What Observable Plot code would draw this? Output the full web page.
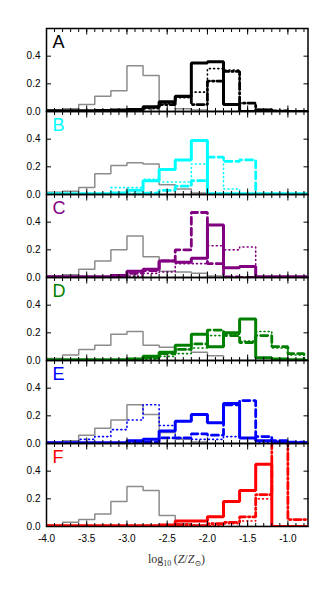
<!DOCTYPE html>
<html><head><meta charset="utf-8">
<script src="https://cdn.jsdelivr.net/npm/d3@7"></script>
<script src="https://cdn.jsdelivr.net/npm/@observablehq/plot@0.6"></script>
<style>body{margin:0;background:#fff;} #chart svg{display:block;}</style>
</head><body><div id="chart"></div>
<script>
// bin left edges (log10 Z/Zsun), width 0.2
const binStarts = [-4.0,-3.8,-3.6,-3.4,-3.2,-3.0,-2.8,-2.6,-2.4,-2.2,-2.0,-1.8,-1.6,-1.4,-1.2,-1.0,-0.8];
const binWidth = 0.2;
const panels = ["A","B","C","D","E","F"];
const panelColors = ["#000000","#00ffff","#800080","#008000","#0000ff","#ff0000"];
const xMajorTicks = [-4.0,-3.5,-3.0,-2.5,-2.0,-1.5,-1.0];
const xMinorTicks = d3.range(-40, -7).map(v => v / 10);
const yTicks = [0.0, 0.2, 0.4];

const grayA   = [0.01,0.02,0.05,0.11,0.15,0.33,0.26,0.07,0.02,0.01,0,0,0,0,0,0,0];
const solidA  = [0.005,0.005,0.005,0.008,0.01,0.015,0.035,0.07,0.11,0.35,0.36,0.05,0.0,0.01,0.0,0,0];
const dashedA = [0,0,0,0,0,0.005,0.03,0.05,0.11,0.05,0.22,0.29,0.06,0.01,0.005,0,0];
const dottedA = [0,0,0,0,0,0.005,0.02,0.06,0.10,0.14,0.31,0.30,0.0,0,0,0,0];

const grayB   = [0.017,0.024,0.05,0.15,0.21,0.23,0.22,0.07,0.04,0.01,0,0,0,0,0,0,0];
const solidB  = [0.005,0.005,0.005,0.005,0.01,0.03,0.10,0.18,0.25,0.39,0.005,0.005,0.005,0.005,0.005,0.005,0.005];
const dashedB = [0,0,0,0,0,0.005,0.01,0.03,0.06,0.10,0.27,0.24,0.25,0,0,0,0];
const dottedB = [0,0,0,0,0.05,0.05,0.11,0.09,0.09,0.22,0.27,0.04,0,0,0,0,0];

const grayC   = [0.01,0.02,0.06,0.12,0.20,0.30,0.15,0.045,0.04,0.03,0.01,0,0,0,0,0,0];
const solidC  = [0.005,0.005,0.005,0.005,0.015,0.045,0.06,0.12,0.11,0.14,0.38,0.07,0.08,0.005,0.005,0.005,0.005];
const dashedC = [0,0,0,0,0,0.03,0.05,0.12,0.20,0.47,0.10,0.005,0,0,0,0,0];
const dottedC = [0,0,0,0,0,0.01,0.03,0.04,0.10,0.10,0.23,0.20,0.22,0,0,0,0];

const grayD   = [0.015,0.04,0.08,0.11,0.19,0.21,0.11,0.095,0.08,0.06,0.035,0,0,0,0,0,0];
const solidD  = [0.005,0.005,0.005,0.005,0.005,0.01,0.03,0.06,0.11,0.19,0.10,0.20,0.30,0.02,0.01,0.005,0];
const dashedD = [0,0,0,0,0,0.005,0.02,0.05,0.08,0.12,0.22,0.18,0.13,0.18,0.10,0.05,0];
const dottedD = [0,0,0,0,0,0,0.01,0.03,0.05,0.09,0.18,0.19,0.14,0.21,0.09,0.04,0];

const grayE   = [0.01,0.02,0.06,0.11,0.17,0.28,0.21,0.08,0.03,0.01,0,0,0,0,0,0,0];
const solidE  = [0.005,0.005,0.005,0.005,0.005,0.02,0.03,0.09,0.16,0.21,0.15,0.29,0.04,0.02,0.01,0.005,0.005];
const dashedE = [0,0,0,0,0,0.005,0.01,0.04,0.04,0.07,0.06,0.28,0.31,0.05,0.02,0.01,0.005];
const dottedE = [0,0.01,0.03,0.05,0.10,0.17,0.28,0.13,0.04,0.03,0.03,0.05,0.04,0.01,0,0,0];

const grayF    = [0.01,0.03,0.05,0.09,0.18,0.29,0.26,0.08,0.02,0.01,0,0,0,0,0,0,0];
const solidF   = [0.005,0.005,0.005,0.005,0.005,0.005,0.005,0.01,0.04,0.04,0.07,0.18,0.26,0.45,0,0,0];
const dashdotF = [0,0,0,0,0,0,0,0.005,0.01,0.005,0.02,0.03,0.07,0.23,0.75,0.05,0.05];
const dottedF  = [0,0,0,0,0,0,0,0.01,0.02,0.01,0.005,0.02,0.04,0.20,0.0,0.0,0.0];

const series = [
  ["A","gray",grayA],["A","dotted",dottedA],["A","dashdot",dashedA],["A","solid",solidA],
  ["B","gray",grayB],["B","dotted",dottedB],["B","dashed",dashedB],["B","solid",solidB],
  ["C","gray",grayC],["C","dotted",dottedC],["C","dashed",dashedC],["C","solid",solidC],
  ["D","gray",grayD],["D","dotted",dottedD],["D","dashed",dashedD],["D","solid",solidD],
  ["E","gray",grayE],["E","dotted",dottedE],["E","dashed",dashedE],["E","solid",solidE],
  ["F","gray",grayF],["F","dotted",dottedF],["F","dashdot",dashdotF],["F","solid",solidF]
];

const styles = {
  gray:    {strokeWidth: 1.5},
  solid:   {strokeWidth: 3},
  dashed:  {strokeWidth: 2.8, strokeDasharray: "7,4"},
  dashdot: {strokeWidth: 2.8, strokeDasharray: "7,3,1.5,3"},
  dotted:  {strokeWidth: 1.6, strokeDasharray: "1,3.2"}
};

const lineMarks = series.map(([panel, style, values]) => {
  const pts = binStarts.map((x, i) => ({panel, x, y: values[i]}));
  pts.push({panel, x: binStarts[binStarts.length - 1] + binWidth, y: values[values.length - 1]});
  const color = style === "gray" ? "#8c8c8c" : panelColors[panels.indexOf(panel)];
  return Plot.line(pts, {x: "x", y: "y", fy: "panel", curve: "step-after", clip: true,
    stroke: color, strokeLinejoin: "miter", ...styles[style]});
});

const chart = Plot.plot({
  width: 331, height: 591,
  marginTop: 25.5, marginBottom: 63.5, marginLeft: 46, marginRight: 23.5,
  style: {fontFamily: "'Liberation Sans', Arial, sans-serif", fontSize: "10px", background: "white", color: "black"},
  x: {domain: [-4.0, -0.75], label: null},
  y: {domain: [0, 0.6], label: null},
  fy: {domain: panels, padding: 0, axis: null, label: null},
  color: {type: "identity"},
  marks: [
    ...lineMarks,
    Plot.axisX(xMinorTicks, {anchor: "bottom", tickSize: -3, fill: "none", facetAnchor: null, label: null, strokeWidth: 1}),
    Plot.axisX(xMinorTicks, {anchor: "top", tickSize: -3, fill: "none", facetAnchor: null, label: null, strokeWidth: 1}),
    Plot.axisX(xMajorTicks, {anchor: "bottom", tickSize: -5.5, fill: "none", facetAnchor: null, label: null, strokeWidth: 1}),
    Plot.axisX(xMajorTicks, {anchor: "top", tickSize: -5.5, fill: "none", facetAnchor: null, label: null, strokeWidth: 1}),
    Plot.axisX(xMajorTicks, {anchor: "bottom", tickSize: 0, tickPadding: 8, tickFormat: d => d.toFixed(1), label: null, fontSize: 10}),
    Plot.axisY(yTicks, {anchor: "left", tickSize: -5, fill: "none", facetAnchor: null, label: null}),
    Plot.axisY(yTicks, {anchor: "right", tickSize: -5, fill: "none", facetAnchor: null, label: null}),
    Plot.axisY(yTicks, {anchor: "left", tickSize: 0, tickPadding: 6, tickFormat: d => d.toFixed(1), facetAnchor: null, label: null, fontSize: 10}),
    Plot.frame({stroke: "black", strokeWidth: 1.5}),
    Plot.text(panels, {fy: d => d, text: d => d, frameAnchor: "top-left", dx: 6, dy: 7, lineAnchor: "top",
      textAnchor: "start", fontSize: 18, fill: (d, i) => panelColors[i]})
  ]
});

// x-axis title with math-style subscript
const svg = d3.select(chart);
const t = svg.append("text")
  .attr("x", 176.5).attr("y", 563)
  .attr("text-anchor", "middle")
  .attr("font-family", "'Liberation Serif', 'DejaVu Serif', serif")
  .attr("font-size", 12).attr("fill", "#333");
t.append("tspan").text("log");
t.append("tspan").attr("font-size", 8).attr("dy", 3).text("10");
t.append("tspan").attr("dy", -3).text("\u2009(");
t.append("tspan").attr("font-style", "italic").text("Z");
t.append("tspan").text("/");
t.append("tspan").attr("font-style", "italic").text("Z");
t.append("tspan").attr("font-size", 8).attr("dy", 3).text("\u2299");
t.append("tspan").attr("dy", -3).text(")");

document.getElementById("chart").appendChild(chart);
</script>
</body></html>
